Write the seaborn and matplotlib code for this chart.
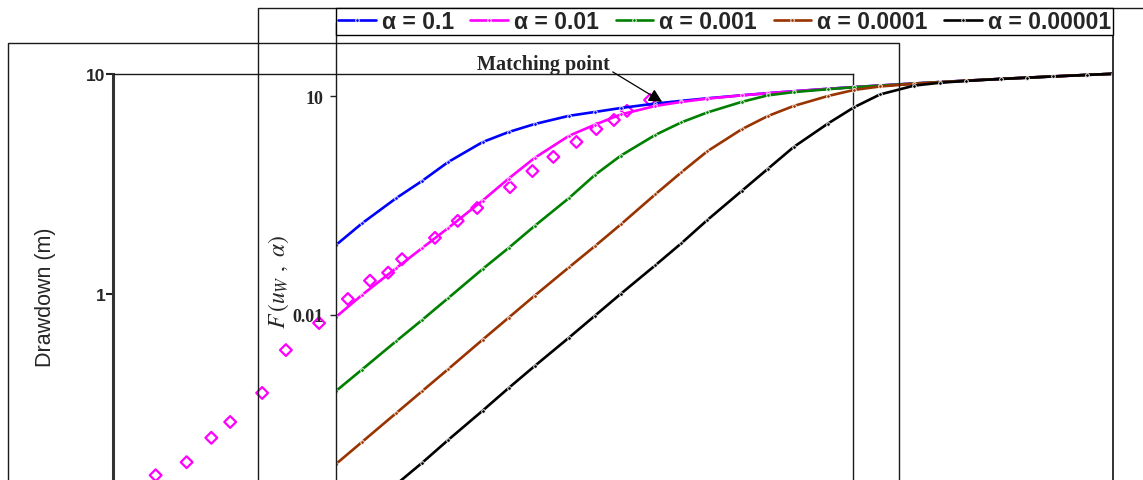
import matplotlib
matplotlib.use("Agg")
import matplotlib.pyplot as plt
import seaborn as sns
from matplotlib.patches import Rectangle
from matplotlib.ticker import NullLocator

# Observed drawdown in the pumped well (time in minutes, drawdown in metres)
time_min = [1.7, 2.5, 3.4, 4.3, 6.4, 8.6, 13, 18.6, 24.5, 30.7, 36.5, 55, 73, 93,
            140, 185, 240, 320, 410, 510, 600, 800]
drawdown_m = [0.150, 0.172, 0.222, 0.262, 0.355, 0.556, 0.738, 0.949, 1.15, 1.25,
              1.44, 1.80, 2.15, 2.46, 3.06, 3.62, 4.20, 4.91, 5.62, 6.18, 6.80, 7.62]

# Large-diameter well type curves F(u_w, alpha) against 1/u_w
inv_uw = [1, 2, 5, 1e1, 2e1, 5e1, 1e2, 2e2, 5e2, 1e3, 2e3, 5e3, 1e4, 2e4, 5e4,
          1e5, 2e5, 5e5, 1e6, 2e6, 5e6, 1e7, 2e7, 5e7, 1e8, 2e8, 5e8, 1e9]
F_alpha_1e1 = [0.091, 0.18, 0.40, 0.69, 1.25, 2.34, 3.21, 4.13, 5.35, 6.05, 6.85,
               7.88, 8.58, 9.30, 10.22, 10.93, 11.62, 12.55, 13.24, 13.93, 14.85,
               15.54, 16.23, 17.15, 17.84, 18.54, 19.45, 20.15]
F_alpha_1e2 = [0.0094, 0.0188, 0.044, 0.083, 0.156, 0.37, 0.74, 1.42, 2.85, 4.05,
               5.6, 7.3, 8.3, 9.2, 10.2, 10.92, 11.62, 12.55, 13.24, 13.93, 14.85,
               15.54, 16.23, 17.15, 17.84, 18.54, 19.45, 20.15]
F_alpha_1e3 = [0.00091, 0.00179, 0.0044, 0.0086, 0.0171, 0.0427, 0.083, 0.166,
               0.40, 0.83, 1.53, 2.93, 4.35, 5.95, 8.3, 10.2, 11.3, 12.4, 13.2,
               13.85, 14.82, 15.54, 16.23, 17.15, 17.84, 18.54, 19.45, 20.15]
F_alpha_1e4 = [9.1e-5, 1.82e-4, 4.55e-4, 9.1e-4, 1.82e-3, 4.6e-3, 9.2e-3, 0.0184,
               0.045, 0.088, 0.175, 0.45, 0.90, 1.75, 3.5, 5.3, 7.3, 10.0, 12.1,
               13.5, 14.7, 15.45, 16.2, 17.15, 17.84, 18.54, 19.45, 20.15]
F_alpha_1e5 = [1e-5, 2e-5, 4.8e-5, 9.5e-5, 1.95e-4, 4.9e-4, 1e-3, 2e-3, 4.9e-3,
               9.8e-3, 0.0196, 0.048, 0.096, 0.20, 0.50, 1.0, 2.0, 4.2, 7.0, 10.5,
               13.9, 15.2, 16.1, 17.1, 17.8, 18.5, 19.45, 20.15]

curve_values = [F_alpha_1e1, F_alpha_1e2, F_alpha_1e3, F_alpha_1e4, F_alpha_1e5]
curve_labels = ["α = 0.1", "α = 0.01", "α = 0.001", "α = 0.0001", "α = 0.00001"]
curve_colors = ["#0000FF", "#FF00FF", "#008000", "#993300", "#000000"]

sns.set_theme(style="white")
plt.rcParams["font.family"] = ["Liberation Sans", "DejaVu Sans"]
plt.rcParams["mathtext.fontset"] = "stix"

W, H = 1143, 481
fig = plt.figure(figsize=(W / 100, H / 100), dpi=100)
fig.patch.set_facecolor("white")


def px_box(x0, y0, x1, y1):
    return [x0 / W, 1 - y1 / H, (x1 - x0) / W, (y1 - y0) / H]


# chart-area borders of the two overlaid charts
fig.patches.append(Rectangle((8 / W, -0.3), (899 - 8) / W, 1 - 44 / H + 0.3,
                             transform=fig.transFigure, fill=False,
                             ec="#1a1a1a", lw=1.0))
fig.patches.append(Rectangle((258 / W, -0.3), 2.0, 1 - 9 / H + 0.3,
                             transform=fig.transFigure, fill=False,
                             ec="#1a1a1a", lw=1.0))

# --- drawdown data chart ---
axA = fig.add_axes(px_box(113, 75, 853, 515))
axA.set_facecolor("none")
sns.scatterplot(x=time_min, y=drawdown_m, ax=axA, marker="D", s=36,
                linewidth=1.6, zorder=3)
pts = axA.collections[-1]
pts.set_facecolor("none")
pts.set_edgecolor("#FF00FF")
axA.set_xscale("log")
axA.set_yscale("log")
axA.set_xlim(1, 1e4)
axA.set_ylim(0.1, 10)
axA.set_yticks([1, 10], labels=["1", "10"], fontweight="bold",
               family="Liberation Sans", fontsize=12.5)
axA.yaxis.set_minor_locator(NullLocator())
axA.xaxis.set_minor_locator(NullLocator())
axA.tick_params(axis="y", direction="out", length=5, width=1.5, pad=0.5,
                color="#222", left=True)
axA.tick_params(axis="x", bottom=False, labelbottom=False)
axA.spines["left"].set_linewidth(2.2)
axA.spines["left"].set_color("#333333")
for side in ("top", "right"):
    axA.spines[side].set_linewidth(1.0)
    axA.spines[side].set_color("#1a1a1a")
axA.spines["bottom"].set_visible(False)
fig.text(45 / W, 1 - 297 / H, "Drawdown (m)", rotation=90, ha="center",
         va="center", fontsize=15.5, family="Liberation Sans")

# --- type curve chart ---
axB = fig.add_axes(px_box(336, 24, 1113, 535))
axB.set_facecolor("none")
for vals, lab, col in zip(curve_values, curve_labels, curve_colors):
    sns.lineplot(x=inv_uw, y=vals, ax=axB, color=col, lw=1.9, marker="o",
                 markersize=2.6, markeredgewidth=0.6, label=lab,
                 estimator=None)
axB.set_xscale("log")
axB.set_yscale("log")
axB.set_xlim(1, 1e9)
axB.set_ylim(1e-5, 100)
axB.set_yticks([1e-2, 10], labels=["0.01", "10"],
               fontweight="bold", family="Liberation Serif", fontsize=13)
axB.yaxis.set_minor_locator(NullLocator())
axB.xaxis.set_minor_locator(NullLocator())
axB.tick_params(axis="y", direction="out", length=4, width=1.0, pad=5,
                color="#222", left=True)
axB.tick_params(axis="x", bottom=False, labelbottom=False)
axB.spines["top"].set_visible(False)
axB.spines["bottom"].set_visible(False)
axB.spines["left"].set_linewidth(1.0)
axB.spines["left"].set_color("#1a1a1a")
axB.spines["right"].set_linewidth(1.4)
axB.spines["right"].set_color("#333333")
axB.set_xlabel("")
axB.set_ylabel("")
fig.text(279 / W, 1 - 282 / H, r"$F\,(u_W\ ,\ \alpha)$", rotation=90,
         ha="center", va="center", fontsize=17)

axB.annotate("Matching point", xy=(6000, 8.3), xytext=(250, 27.5),
             ha="center", va="center", fontsize=14.5, fontweight="bold",
             family="Liberation Serif",
             arrowprops=dict(arrowstyle="-|>", color="black", lw=0.9,
                             shrinkA=0, shrinkB=0, relpos=(1.0, 0.2),
                             mutation_scale=20))

handles, labels = axB.get_legend_handles_labels()
axB.get_legend().remove()
leg = fig.legend(handles, labels, loc="upper left",
                 bbox_to_anchor=(336 / W, 1 - 40 / H, 777 / W, 31 / H),
                 mode="expand", ncol=5, borderaxespad=0, frameon=True,
                 fancybox=False, framealpha=1, edgecolor="black",
                 prop={"family": "Liberation Sans", "size": 16.5,
                       "weight": "bold"},
                 handlelength=1.65, handletextpad=0.26, columnspacing=0.7,
                 borderpad=0.08)
leg.get_frame().set_linewidth(1.0)

fig.savefig("out.png", dpi=100)
